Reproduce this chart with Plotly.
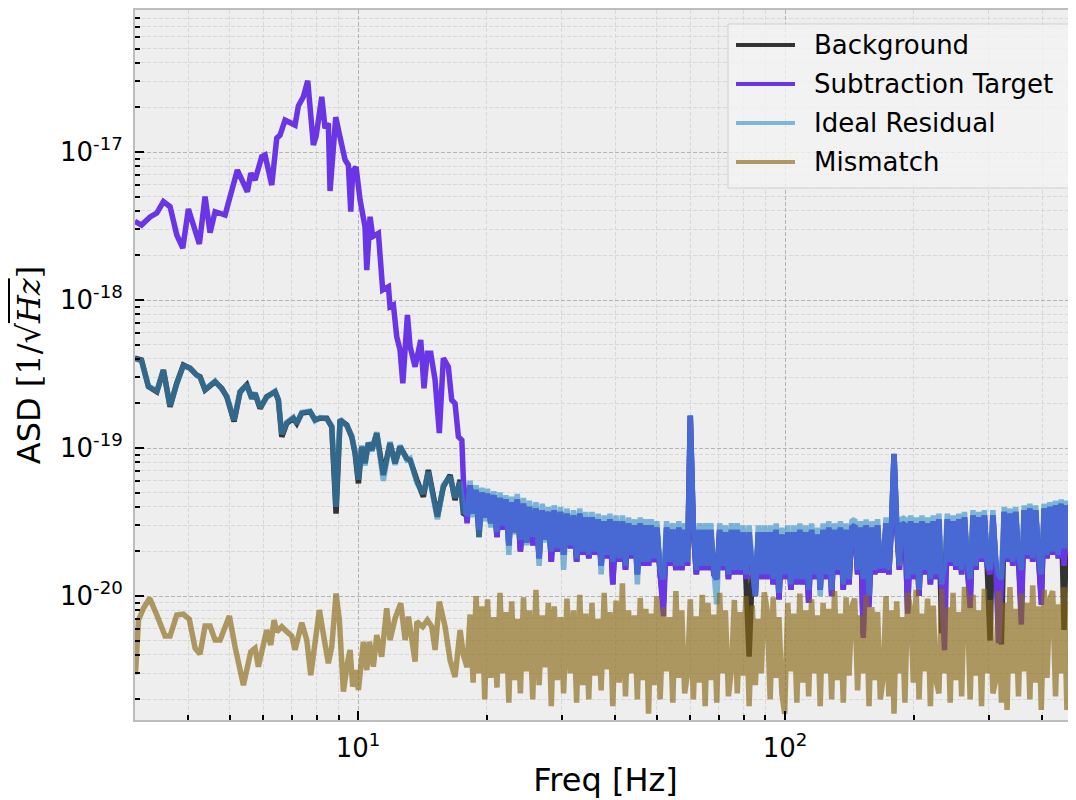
import math
import plotly.graph_objects as go

UNIT = 1e-20  # all ASD values below are in units of 1e-20 1/sqrt(Hz)

# ---------------- low-frequency parts (read vertex by vertex) ----------------
freq_tgt_lo = [3.00, 3.11, 3.258, 3.378, 3.50, 3.628, 3.762, 3.886, 4.005, 4.115,
               4.249, 4.382, 4.502, 4.625, 4.882, 5.014, 5.216, 5.505, 5.607, 5.738,
               5.949, 6.056, 6.279, 6.45, 6.566, 6.745, 7.119, 7.248, 7.446, 7.624,
               7.857, 7.972, 8.222, 8.369, 8.519, 8.598, 8.867, 9.041, 9.324, 9.49,
               9.614, 9.718, 9.893, 10.11, 10.38, 10.48, 10.67, 10.82, 11.16, 11.42,
               11.78, 11.88, 12.1, 12.32, 12.54, 12.73, 13.05, 13.24, 13.6, 14.02,
               14.27, 14.53, 14.8, 15.15, 15.5, 15.84, 16.27, 16.57, 16.87, 17.18,
               17.5, 17.65]
target_lo = [340, 321, 364, 387, 462, 427, 275, 224, 412, 321,
             239, 499, 285, 395, 375, 499, 755, 539, 718, 647,
             929, 954, 598, 1240, 1300, 1640, 1520, 2050, 2360, 3030,
             1115, 1270, 2360, 1450, 1560, 545, 1720, 1320, 883, 817,
             395, 743, 792, 474, 313, 159, 365, 268, 282, 117,
             123, 90.1, 92.5, 56.5, 46.0, 27.4, 79.2, 48.3, 35.4, 53.7,
             25.3, 43.6, 43.6, 28.8, 12.6, 40.4, 35.4, 21.1, 20.0, 11.9,
             11.3, 6.08]

freq_bg_lo = [3.00, 3.11, 3.228, 3.378, 3.50, 3.628, 3.762, 3.898, 4.042, 4.19,
              4.265, 4.382, 4.625, 4.796, 4.927, 5.124, 5.293, 5.488, 5.637, 5.738,
              5.895, 6.111, 6.392, 6.506, 6.627, 6.808, 7.054, 7.184, 7.381, 7.719,
              7.93, 8.147, 8.447, 8.677, 8.881, 9.075, 9.409, 9.666, 9.84, 10.02,
              10.2, 10.38, 10.57, 10.77, 11.06, 11.46, 11.88, 12.21, 12.54, 13.0,
              13.24, 13.73, 14.22, 14.61, 15.34, 15.84, 16.43, 16.87, 17.34, 17.65]
background_lo = [40.4, 39.3, 26.0, 24.0, 33.7, 19.0, 27.4, 36.4, 34.6, 31.1,
                 30.3, 24.7, 28.1, 25.3, 22.2, 15.1, 24.0, 26.7, 21.7, 23.4,
                 18.5, 22.2, 24.0, 21.1, 11.9, 14.7, 15.9, 14.7, 17.2, 17.6,
                 15.5, 15.9, 15.9, 13.9, 3.6, 15.5, 14.3, 11.9, 9.21, 5.77,
                 10.2, 7.88, 10.8, 9.69, 12.6, 6.57, 10.8, 7.88, 10.2, 8.52,
                 8.30, 6.08, 4.69, 7.10, 3.43, 5.48, 6.57, 4.45, 6.08, 3.62]
residual_lo = [40.0, 39.0, 26.2, 24.2, 33.5, 19.3, 27.2, 36.0, 34.8, 31.0,
               30.0, 24.9, 28.3, 25.0, 22.4, 15.4, 23.8, 26.9, 21.5, 23.6,
               18.8, 22.0, 24.2, 21.3, 12.4, 14.9, 16.1, 14.5, 17.4, 17.8,
               15.3, 16.1, 15.7, 14.1, 4.0, 15.7, 14.1, 12.1, 9.4, 6.1,
               10.4, 7.6, 10.9, 9.5, 12.8, 6.0, 11.0, 7.7, 10.4, 8.3,
               8.5, 5.8, 4.9, 6.9, 3.3, 5.6, 6.4, 4.6, 5.9, 3.7]

freq_mis_lo = [3.01, 3.06, 3.143, 3.25, 3.378, 3.532, 3.628, 3.762, 3.898, 4.025,
               4.153, 4.265, 4.382, 4.502, 4.625, 4.752, 4.996, 5.151, 5.388, 5.607,
               5.738, 5.841, 6.111, 6.245, 6.358, 6.45, 6.627, 6.808, 6.993, 7.119,
               7.381, 7.584, 7.748, 8.116, 8.325, 8.519, 8.677, 8.881, 9.041, 9.239,
               9.439, 9.578, 9.718, 9.893, 10.02, 10.29, 10.48, 10.63, 10.86, 11.06,
               11.36, 11.67, 11.88, 12.21, 12.59, 12.89, 13.12, 13.6, 13.73, 14.17,
               14.53, 14.88, 15.15, 15.5, 15.99, 16.43, 16.87, 17.34, 17.65]
mismatch_lo = [0.295, 0.688, 0.826, 0.965, 0.744, 0.537, 0.537, 0.744, 0.755, 0.696,
               0.443, 0.406, 0.627, 0.627, 0.504, 0.504, 0.733, 0.454, 0.250, 0.420,
               0.443, 0.333, 0.589, 0.467, 0.688, 0.574, 0.620, 0.574, 0.537, 0.432,
               0.660, 0.504, 0.292, 0.804, 0.518, 0.351, 0.454, 1.04, 0.688, 0.226,
               0.351, 0.432, 0.244, 0.316, 0.232, 0.491, 0.316, 0.491, 0.333, 0.545,
               0.389, 0.826, 0.504, 0.707, 0.893, 0.504, 0.725, 0.360, 0.671, 0.620,
               0.688, 0.620, 0.432, 0.915, 0.620, 0.367, 0.284, 0.589, 0.398]

# ---------------- high-frequency parts (shared frequency bins) ----------------
freq_hi = [18.0, 18.3, 18.6, 18.9, 19.2, 19.5, 19.8, 20.1, 20.45, 20.8,
           21.15, 21.5, 21.85, 22.2, 22.55, 22.9, 23.25, 23.6, 24.0, 24.4,
           24.8, 25.2, 25.65, 26.1, 26.55, 27.0, 27.45, 27.9, 28.35, 28.8,
           29.3, 29.8, 30.3, 30.85, 31.4, 31.95, 32.5, 33.05, 33.6, 34.15,
           34.7, 35.3, 35.9, 36.5, 37.1, 37.7, 38.3, 38.9, 39.5, 40.2,
           40.9, 41.6, 42.3, 43.0, 43.7, 44.4, 45.1, 45.8, 46.5, 47.2,
           47.9, 48.6, 49.3, 50.1, 51.0, 51.9, 52.8, 53.7, 54.6, 55.5,
           56.4, 57.3, 58.2, 59.1, 60.0, 61.0, 62.0, 63.0, 64.0, 65.0,
           66.0, 67.0, 68.1, 69.2, 70.3, 71.4, 72.5, 73.7, 74.9, 76.1,
           77.3, 78.5, 79.7, 81.0, 82.4, 83.8, 85.2, 86.6, 88.0, 89.4,
           90.8, 92.3, 93.8, 95.3, 96.8, 98.3, 99.8, 101.5, 103.2, 104.9,
           106.6, 108.3, 110.0, 111.8, 113.6, 115.4, 117.2, 119.0, 120.9, 122.8,
           124.7, 126.6, 128.6, 130.6, 132.7, 134.8, 136.9, 139.0, 141.2, 143.4,
           145.6, 147.9, 150.2, 152.5, 154.9, 157.3, 159.7, 162.2, 164.7, 167.2,
           169.8, 172.4, 175.0, 177.6, 180.0, 182.6, 185.3, 188.0, 190.9, 193.8,
           196.8, 199.8, 202.9, 206.0, 209.2, 212.4, 215.7, 219.0, 222.4, 225.8,
           229.3, 232.8, 236.4, 240.0, 243.7, 247.5, 251.3, 255.2, 259.2, 263.2,
           267.3, 271.4, 275.6, 279.9, 284.2, 288.6, 293.0, 297.5, 302.1, 306.8,
           311.5, 316.3, 321.2, 326.2, 331.2, 336.3, 341.5, 346.8, 352.2, 357.6,
           363.2, 368.8, 374.5, 380.3, 386.2, 392.2, 398.3, 404.5, 410.7, 417.1,
           423.5, 430.1, 436.7, 443.5, 450.3, 457.3, 464.4, 471.6, 478.9, 486.3]

target_hi = [3.1, 5.6, 3.6, 5.2, 2.8, 5.0, 3.4, 4.9, 3.1, 4.8,
             2.5, 4.6, 2.8, 4.5, 2.2, 4.3, 2.7, 4.5, 2.0, 4.2,
             2.3, 4.0, 2.2, 3.9, 1.8, 3.8, 2.4, 3.7, 1.7, 3.8,
             2.0, 3.7, 1.9, 3.6, 2.1, 3.5, 1.7, 3.6, 1.9, 3.4,
             1.8, 3.4, 1.9, 3.3, 1.6, 3.2, 1.8, 3.3, 1.2, 3.2,
             1.7, 3.2, 1.5, 3.1, 1.8, 3.0, 1.4, 3.1, 1.6, 3.0,
             1.6, 3.0, 1.7, 2.9, 1.4, 0.73, 2.9, 1.6, 2.8, 1.5,
             2.9, 1.5, 2.8, 1.6, 16.5, 2.8, 1.4, 2.8, 1.5, 2.8,
             1.5, 2.8, 1.4, 1.3, 2.8, 1.5, 2.7, 1.3, 2.8, 1.4,
             2.8, 1.4, 2.7, 1.3, 2.7, 1.5, 1.0, 2.7, 1.3, 2.7,
             1.3, 2.7, 1.2, 2.8, 0.95, 2.6, 1.3, 2.7, 1.1, 2.7,
             1.2, 2.8, 1.2, 2.7, 0.9, 2.8, 1.3, 2.6, 1.1, 2.8,
             1.3, 2.9, 1.0, 2.8, 1.4, 2.9, 1.1, 2.8, 1.2, 2.9,
             3.0, 1.4, 2.9, 0.52, 3.0, 0.84, 2.9, 1.4, 3.0, 1.5,
             1.5, 3.1, 1.4, 3.0, 9.1, 3.0, 1.5, 3.1, 3.0, 0.76,
             3.2, 1.3, 3.1, 1.0, 3.2, 1.4, 3.1, 1.2, 3.2, 1.3,
             3.3, 1.1, 0.43, 3.3, 1.6, 3.2, 1.5, 3.3, 1.4, 3.4,
             1.6, 0.83, 3.5, 1.5, 3.4, 1.7, 3.5, 1.6, 1.4, 3.5,
             1.7, 0.48, 1.2, 3.7, 1.7, 3.6, 1.6, 3.7, 1.8, 0.64,
             3.8, 1.8, 3.9, 1.7, 3.8, 1.9, 0.87, 3.9, 1.8, 4.0,
             1.9, 4.1, 1.8, 4.2, 1.6, 4.1, 1.9, 4.3, 1.8, 4.2]

residual_hi = [3.6, 6.0, 3.4, 5.6, 2.5, 5.4, 3.2, 5.3, 2.9, 5.1,
               2.7, 5.0, 3.0, 4.8, 1.9, 4.7, 2.6, 4.9, 2.4, 4.6,
               2.2, 4.4, 2.5, 4.3, 1.6, 4.2, 2.3, 4.0, 2.0, 4.1,
               2.1, 4.0, 1.5, 3.9, 2.2, 3.8, 1.8, 3.9, 2.0, 3.7,
               1.9, 3.7, 2.0, 3.6, 1.4, 3.5, 1.9, 3.6, 1.7, 3.5,
               1.8, 3.5, 1.6, 3.4, 1.9, 3.3, 1.2, 3.4, 1.7, 3.3,
               1.7, 3.3, 1.8, 3.2, 1.5, 1.3, 3.2, 1.7, 3.1, 1.6,
               3.2, 1.6, 3.1, 1.7, 16.7, 3.0, 1.5, 3.1, 1.6, 3.1,
               1.6, 3.1, 1.5, 0.88, 3.1, 1.6, 3.0, 1.4, 3.1, 1.5,
               3.1, 1.5, 3.0, 1.4, 3.0, 1.6, 1.0, 3.0, 1.4, 3.0,
               1.4, 3.0, 1.3, 3.1, 1.05, 2.9, 1.4, 3.0, 1.2, 3.0,
               1.3, 3.1, 1.3, 3.0, 1.1, 3.1, 1.4, 2.9, 1.0, 3.1,
               1.4, 3.2, 1.1, 3.1, 1.5, 3.2, 1.2, 3.1, 1.3, 3.2,
               3.3, 1.5, 3.2, 1.3, 3.3, 1.0, 3.2, 1.5, 3.3, 1.6,
               1.6, 3.4, 1.5, 3.3, 9.2, 3.3, 1.6, 3.4, 3.3, 1.3,
               3.5, 1.4, 3.4, 1.1, 3.5, 1.5, 3.4, 1.3, 3.5, 1.4,
               3.6, 1.2, 1.6, 3.6, 1.7, 3.5, 1.6, 3.6, 1.5, 3.7,
               1.7, 1.3, 3.8, 1.6, 3.7, 1.8, 3.8, 1.7, 1.5, 3.8,
               1.8, 1.4, 1.3, 4.0, 1.8, 3.9, 1.7, 4.0, 1.9, 1.5,
               4.1, 1.9, 4.2, 1.8, 4.1, 2.0, 1.4, 4.2, 1.9, 4.3,
               2.0, 4.4, 1.9, 4.5, 2.1, 4.4, 2.0, 4.6, 1.9, 4.5]

background_hi = [3.5, 5.6, 3.6, 5.2, 2.5, 5.0, 3.4, 4.9, 3.1, 4.8,
                 2.5, 4.6, 2.8, 4.5, 2.2, 4.3, 2.7, 4.5, 2.0, 4.2,
                 2.3, 4.0, 2.2, 3.9, 1.8, 3.8, 2.4, 3.7, 1.7, 3.8,
                 2.0, 3.7, 1.9, 3.6, 2.1, 3.5, 1.7, 3.6, 1.9, 3.4,
                 1.8, 3.4, 1.9, 3.3, 1.6, 3.2, 1.8, 3.3, 1.2, 3.2,
                 1.7, 3.2, 1.5, 3.1, 1.8, 3.0, 1.4, 3.1, 1.6, 3.0,
                 1.6, 3.0, 1.7, 2.9, 1.4, 0.9, 2.9, 1.6, 2.8, 1.5,
                 2.9, 1.5, 2.8, 1.6, 16.5, 2.8, 1.4, 2.8, 1.5, 2.8,
                 1.5, 2.8, 1.4, 1.3, 2.8, 1.5, 2.7, 1.3, 2.8, 1.4,
                 2.8, 1.4, 2.7, 1.3, 0.39, 1.5, 1.0, 2.7, 1.3, 2.7,
                 1.3, 2.7, 1.2, 2.8, 0.95, 2.6, 1.3, 2.7, 1.1, 2.7,
                 1.2, 2.8, 1.2, 2.7, 0.9, 2.8, 1.3, 2.6, 1.1, 2.8,
                 1.3, 2.9, 1.0, 2.8, 1.4, 2.9, 1.1, 2.8, 1.2, 2.9,
                 3.0, 1.4, 2.9, 0.55, 3.0, 0.9, 2.9, 1.4, 3.0, 1.5,
                 1.5, 3.1, 1.4, 3.0, 9.1, 3.0, 1.5, 3.1, 3.0, 0.8,
                 3.2, 1.3, 3.1, 1.0, 3.2, 1.4, 3.1, 1.2, 3.2, 1.3,
                 3.3, 0.56, 1.2, 3.3, 1.6, 3.2, 1.5, 3.3, 1.4, 3.4,
                 1.6, 0.9, 3.5, 1.5, 3.4, 1.7, 3.5, 1.6, 0.5, 3.5,
                 1.7, 1.1, 0.47, 3.7, 1.7, 3.6, 1.6, 3.7, 1.8, 0.8,
                 3.8, 1.8, 3.9, 1.7, 3.8, 1.9, 0.95, 3.9, 1.8, 4.0,
                 1.9, 4.1, 1.8, 4.2, 0.59, 4.1, 1.9, 4.3, 1.8, 4.2]

mismatch_hi = [0.33, 0.75, 0.26, 1.0, 0.3, 0.85, 0.2, 0.95, 0.28, 0.72,
               0.24, 1.05, 0.3, 0.78, 0.19, 0.92, 0.27, 0.7, 0.22, 0.98,
               0.31, 0.8, 0.2, 1.1, 0.25, 0.74, 0.33, 0.9, 0.18, 0.85,
               0.27, 0.72, 0.22, 0.96, 0.3, 0.8, 0.19, 1.02, 0.25, 0.76,
               0.2, 0.9, 0.29, 0.7, 0.23, 1.05, 0.32, 0.78, 0.18, 0.93,
               0.26, 1.22, 0.21, 0.8, 0.3, 0.74, 0.2, 0.97, 0.27, 0.82,
               0.16, 0.76, 0.25, 1.0, 0.2, 0.84, 0.31, 0.72, 0.19, 1.08,
               0.28, 0.8, 0.22, 0.3, 0.95, 0.2, 0.73, 0.26, 1.02, 0.18,
               0.9, 0.27, 0.75, 0.19, 1.05, 0.3, 0.8, 0.21, 0.32, 0.94,
               0.22, 0.78, 0.29, 1.0, 0.18, 0.86, 0.25, 0.7, 0.3, 1.06,
               0.8, 0.2, 0.98, 0.28, 0.72, 0.22, 0.16, 0.9, 0.31, 0.76,
               0.19, 1.04, 0.26, 0.8, 0.21, 0.95, 0.3, 0.74, 0.18, 0.9,
               0.3, 0.82, 0.2, 1.08, 0.27, 0.76, 0.19, 0.98, 0.29, 0.85,
               0.96, 0.23, 0.74, 0.3, 1.02, 0.18, 0.84, 0.27, 0.78, 0.2,
               0.28, 1.0, 0.21, 0.8, 0.16, 0.92, 0.3, 0.72, 0.19, 1.05,
               0.82, 0.26, 1.1, 0.2, 0.76, 0.31, 0.96, 0.18, 0.86, 0.27,
               0.22, 1.12, 0.3, 0.84, 0.19, 1.05, 0.27, 0.78, 0.21, 1.15,
               0.88, 0.2, 1.02, 0.29, 0.8, 0.18, 1.12, 0.3, 0.94, 0.22,
               0.27, 1.08, 0.19, 0.9, 0.17, 1.15, 0.3, 0.82, 0.21, 1.04,
               0.31, 0.9, 0.2, 1.18, 0.26, 0.85, 0.17, 1.1, 0.28, 0.95,
               1.08, 0.21, 0.88, 0.3, 1.15, 0.17, 0.92, 0.27, 1.05, 0.2]

for arr in (target_hi, residual_hi, background_hi, mismatch_hi):
    assert len(arr) == len(freq_hi), len(arr)
assert len(target_lo) == len(freq_tgt_lo)
assert len(background_lo) == len(freq_bg_lo) == len(residual_lo)
assert len(mismatch_lo) == len(freq_mis_lo)

series_names = ["Background", "Subtraction Target", "Ideal Residual", "Mismatch"]
series_colors = ["rgba(30,30,30,0.9)", "rgb(106,53,228)",
                 "rgba(50,140,200,0.6)", "rgba(139,105,20,0.65)"]

series = [
    (freq_bg_lo + freq_hi, background_lo + background_hi),
    (freq_tgt_lo + freq_hi, target_lo + target_hi),
    (freq_bg_lo + freq_hi, residual_lo + residual_hi),
    (freq_mis_lo + freq_hi, mismatch_lo + mismatch_hi),
]

x_ticks = [10, 100]
x_ticktext = ["10<sup>1</sup>", "10<sup>2</sup>"]
y_ticks = [1e-20, 1e-19, 1e-18, 1e-17]
y_ticktext = ["10<sup>-20</sup>", "10<sup>-19</sup>", "10<sup>-18</sup>", "10<sup>-17</sup>"]
x_minor = [4, 5, 6, 7, 8, 9, 20, 30, 40, 50, 60, 70, 80, 90, 200, 300, 400]
y_minor = [k * 10.0 ** e for e in range(-21, -16) for k in range(2, 10)]

# ---------------- figure geometry ----------------
# The page body has an 8px margin, so the figure is shifted by 8px.
OFF = 8
W, H = 1076 - OFF, 800 - OFF
PL, PR, PT, PB = 135 - OFF, 1076 - OFF, 10 - OFF, 720 - OFF

fig = go.Figure()
for (fx, fy), name, col in zip(series, series_names, series_colors):
    fig.add_trace(go.Scatter(
        x=fx, y=[v * UNIT for v in fy], mode="lines", name=name,
        line=dict(color=col, width=5.5, simplify=False), showlegend=False,
        hoverinfo="skip"))

GRID_MAJ = "#b4b4b4"
GRID_MIN = "#d8d8d8"
DASH = "4px,2px"

fig.update_xaxes(
    type="log", range=[math.log10(3.003), 2.6815],
    tickmode="array", tickvals=x_ticks, ticktext=x_ticktext,
    ticks="inside", ticklen=9, tickwidth=2, tickcolor="black",
    tickfont=dict(size=26, color="black"), ticklabelstandoff=4,
    showgrid=True, gridcolor=GRID_MAJ, gridwidth=1, griddash=DASH,
    minor=dict(tickmode="array", tickvals=x_minor, ticks="inside", ticklen=5,
               tickwidth=1.5, tickcolor="black", showgrid=True,
               gridcolor=GRID_MIN, gridwidth=1, griddash=DASH),
    showline=True, linecolor="#bdbdbd", linewidth=2, mirror=True,
    zeroline=False,
    title=dict(text="Freq [Hz]", font=dict(size=32, color="black"), standoff=6),
)
fig.update_yaxes(
    type="log", range=[-20.8378, -16.0405],
    tickmode="array", tickvals=y_ticks, ticktext=y_ticktext,
    ticks="inside", ticklen=9, tickwidth=2, tickcolor="black",
    tickfont=dict(size=26, color="black"), ticklabelstandoff=5,
    showgrid=True, gridcolor=GRID_MAJ, gridwidth=1, griddash=DASH,
    minor=dict(tickmode="array", tickvals=y_minor, ticks="inside", ticklen=5,
               tickwidth=1.5, tickcolor="black", showgrid=True,
               gridcolor=GRID_MIN, gridwidth=1, griddash=DASH),
    showline=True, linecolor="#bdbdbd", linewidth=2, mirror=False,
    zeroline=False,
    title=dict(text="ASD <span style='font-family:DejaVu Serif'>[1/\u221a"
                    "<span style='text-decoration:overline'><i>Hz</i></span>]</span>",
               font=dict(size=32, color="black"), standoff=10),
)

# ---------------- legend (drawn as a framed box) ----------------
def px_x(p):
    return (p - OFF - PL) / (PR - PL)

def px_y(p):
    return (PB - (p - OFF)) / (PB - PT)

shapes = [dict(type="rect", xref="paper", yref="paper", layer="above",
               x0=px_x(728), x1=px_x(1073), y0=px_y(188), y1=px_y(24),
               fillcolor="rgba(242,242,242,0.8)", line=dict(color="#cfcfcf", width=1))]
annotations = []
rows = [45, 84, 123, 162]
for name, col, ry in zip(series_names, series_colors, rows):
    shapes.append(dict(type="line", xref="paper", yref="paper", layer="above",
                       x0=px_x(736), x1=px_x(795), y0=px_y(ry), y1=px_y(ry),
                       line=dict(color=col, width=4)))
    annotations.append(dict(xref="paper", yref="paper", x=px_x(812), y=px_y(ry),
                            xanchor="left", yanchor="middle", showarrow=False,
                            text=name, font=dict(size=26, color="black")))

fig.update_layout(
    width=W, height=H, autosize=False,
    margin=dict(l=PL, r=W - PR, t=PT, b=H - PB, pad=0),
    paper_bgcolor="white", plot_bgcolor="#eeeeee",
    font=dict(family="DejaVu Sans", color="black"),
    shapes=shapes, annotations=annotations, showlegend=False,
)

fig.write_html("out.html")
